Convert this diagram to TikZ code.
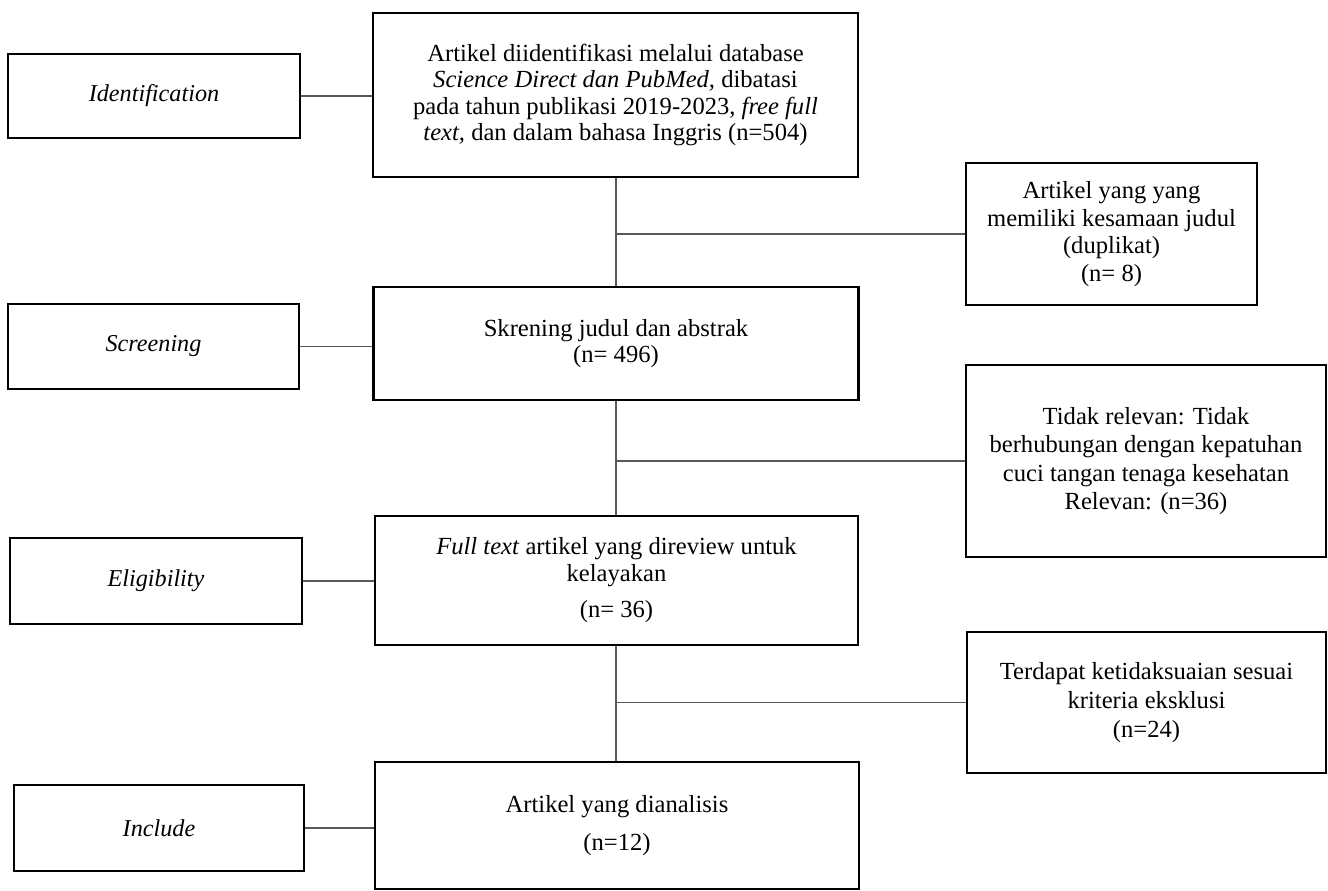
\documentclass[tikz,border=0pt]{standalone}
\usepackage{fontspec}
\setmainfont{Liberation Serif}
\begin{document}
\begin{tikzpicture}[x=1pt,y=-1pt,
  box/.style={draw=black,line width=2.5pt,rectangle,inner sep=0pt,align=center,
    font=\fontsize{24.6}{26.5}\selectfont},
  lbl/.style={box,font=\fontsize{24.2}{26}\selectfont\itshape},
  conn/.style={draw=black!65,line width=1.5pt}]
\useasboundingbox[fill=white] (0,0) rectangle (1328,891);

\node[lbl,minimum width=292pt,minimum height=84pt] (idL) at (154,96) {Identification};
\node[box,minimum width=485pt,minimum height=164pt] (b1) at (615.5,95)
  {Artikel diidentifikasi melalui database\\
   \textit{Science Direct dan PubMed,} dibatasi\\
   pada tahun publikasi 2019-2023, \textit{free full}\\
   \textit{text,} dan dalam bahasa Inggris (n=504)};
\node[box,minimum width=291pt,minimum height=142pt] (dup) at (1111.5,234)
  {Artikel yang yang\\[1pt]memiliki kesamaan judul\\[1pt](duplikat)\\[1pt](n= 8)};

\node[lbl,minimum width=291pt,minimum height=85pt] (scrL) at (153.5,346.5) {Screening};
\node[box,minimum width=485pt,minimum height=113pt] (b2) at (616,343.5)
  {Skrening judul dan abstrak\\(n= 496)};
\node[box,minimum width=360pt,minimum height=192pt] (tidak) at (1146,461)
  {Tidak relevan: Tidak\\[2pt]berhubungan dengan kepatuhan\\[2pt]cuci tangan tenaga kesehatan\\[2pt]Relevan: (n=36)};

\node[lbl,minimum width=292pt,minimum height=86pt] (eligL) at (156,581) {Eligibility};
\node[box,minimum width=483pt,minimum height=129pt] (b4) at (616.5,580.5)
  {\textit{Full text} artikel yang direview untuk\\kelayakan\\[10pt](n= 36)};
\node[box,minimum width=359pt,minimum height=141pt] (terd) at (1146.5,702.5)
  {Terdapat ketidaksuaian sesuai\\[2.5pt]kriteria eksklusi\\[2.5pt](n=24)};

\node[lbl,minimum width=290pt,minimum height=86pt] (incL) at (159,828) {Include};
\node[box,minimum width=484pt,minimum height=127pt] (b5) at (617,825.5)
  {Artikel yang dianalisis\\[12pt](n=12)};

% left connectors
\draw[conn] (idL.east) -- (idL.east -| b1.west);
\draw[conn] (scrL.east) -- (scrL.east -| b2.west);
\draw[conn] (eligL.east) -- (eligL.east -| b4.west);
\draw[conn] (incL.east) -- (incL.east -| b5.west);

% spine
\coordinate (j1) at (616,234);
\coordinate (j2) at (616,461);
\coordinate (j3) at (616,702.5);
\draw[conn] (b1.south -| j1) -- (b2.north -| j1);
\draw[conn] (b2.south -| j2) -- (b4.north -| j2);
\draw[conn] (b4.south -| j3) -- (b5.north -| j3);

% branches
\draw[conn] (j1) -- (dup.west);
\draw[conn] (j2) -- (tidak.west);
\draw[conn] (j3) -- (terd.west);
\end{tikzpicture}
\end{document}
